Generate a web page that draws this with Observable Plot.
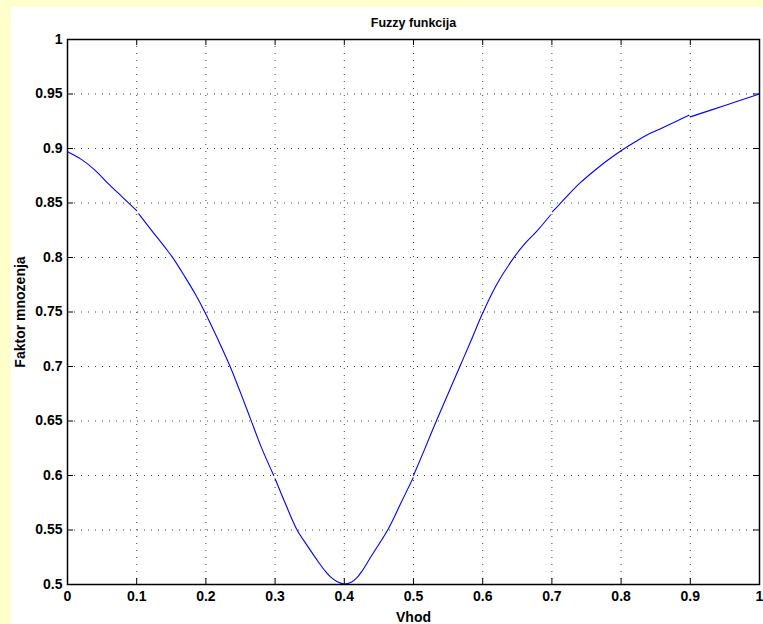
<!DOCTYPE html>
<html>
<head>
<meta charset="utf-8">
<script src="https://cdn.jsdelivr.net/npm/d3@7"></script>
<script src="https://cdn.jsdelivr.net/npm/@observablehq/plot@0.6"></script>
<style>
  html, body { margin: 0; padding: 0; background: #ffffcc; width: 763px; height: 624px; overflow: hidden; }
  #panel { position: absolute; left: 11px; top: 7px; width: 752px; height: 617px; background: #ffffff; }
</style>
</head>
<body>
<div id="panel"></div>
<script>
// Curve samples (segment id marks the small breaks)
const xs = [
  0, 0.02, 0.04, 0.06, 0.08, 0.1,
  0.103, 0.122, 0.14, 0.153, 0.17, 0.185, 0.2, 0.218, 0.235, 0.25, 0.265, 0.28, 0.298,
  0.3, 0.315, 0.331, 0.345, 0.36, 0.372, 0.38, 0.39, 0.4, 0.41, 0.418, 0.426, 0.44, 0.4635, 0.482, 0.4996,
  0.5, 0.516, 0.533, 0.55, 0.567, 0.584, 0.6, 0.62, 0.644, 0.66, 0.678, 0.698,
  0.701, 0.72, 0.74, 0.764, 0.78, 0.8, 0.82, 0.836, 0.86, 0.88, 0.898,
  0.9, 0.95, 1
];
const ys = [
  0.897, 0.890, 0.880, 0.867, 0.855, 0.843,
  0.840, 0.8245, 0.810, 0.799, 0.782, 0.766, 0.748, 0.724, 0.700, 0.676, 0.651, 0.626, 0.600,
  0.597, 0.574, 0.551, 0.537, 0.523, 0.5126, 0.507, 0.5025, 0.5005, 0.502, 0.506, 0.5126, 0.527, 0.551, 0.575, 0.598,
  0.600, 0.624, 0.650, 0.675, 0.700, 0.725, 0.749, 0.775, 0.799, 0.812, 0.824, 0.839,
  0.842, 0.855, 0.868, 0.881, 0.889, 0.898, 0.906, 0.912, 0.919, 0.925, 0.9306,
  0.929, 0.9395, 0.950
];
const seg = [
  0, 0, 0, 0, 0, 0,
  1, 1, 1, 1, 1, 1, 1, 1, 1, 1, 1, 1, 1,
  2, 2, 2, 2, 2, 2, 2, 2, 2, 2, 2, 2, 2, 2, 2, 2,
  3, 3, 3, 3, 3, 3, 3, 3, 3, 3, 3, 3,
  4, 4, 4, 4, 4, 4, 4, 4, 4, 4, 4,
  5, 5, 5
];

const xTicks = [0, 0.1, 0.2, 0.3, 0.4, 0.5, 0.6, 0.7, 0.8, 0.9, 1];
const xLabels = ["0", "0.1", "0.2", "0.3", "0.4", "0.5", "0.6", "0.7", "0.8", "0.9", "1"];
const yTicks = [0.5, 0.55, 0.6, 0.65, 0.7, 0.75, 0.8, 0.85, 0.9, 0.95, 1];
const yLabels = ["0.5", "0.55", "0.6", "0.65", "0.7", "0.75", "0.8", "0.85", "0.9", "0.95", "1"];

const titleText = "Fuzzy funkcija";
const xLabelText = "Vhod";
const yLabelText = "Faktor mnozenja";

const data = xs.map((x, i) => ({x, y: ys[i], s: seg[i]}));

const W = 752, H = 617;
const mL = 56, mR = 4, mT = 32, mB = 40;
const innerW = W - mL - mR, innerH = H - mT - mB;
const tickLen = 6;
const font = "'Liberation Sans', Arial, Helvetica, sans-serif";

const chart = Plot.plot({
  width: W,
  height: H,
  marginLeft: mL,
  marginRight: mR,
  marginTop: mT,
  marginBottom: mB,
  style: {fontFamily: font, fontSize: "14px", fontWeight: "bold", background: "white", color: "black", overflow: "visible"},
  x: {domain: [0, 1]},
  y: {domain: [0.5, 1]},
  marks: [
    Plot.gridX(xTicks, {stroke: "#000", strokeOpacity: 0.75, strokeDasharray: "1,6", strokeWidth: 1}),
    Plot.gridY(yTicks, {stroke: "#000", strokeOpacity: 0.75, strokeDasharray: "1,6", strokeWidth: 1}),
    // inside tick marks (MATLAB style) on all four sides
    Plot.tickX(xTicks, {x: d => d, stroke: "#000", strokeWidth: 1, insetTop: innerH - tickLen}),
    Plot.tickX(xTicks, {x: d => d, stroke: "#000", strokeWidth: 1, insetBottom: innerH - tickLen}),
    Plot.tickY(yTicks, {y: d => d, stroke: "#000", strokeWidth: 1, insetRight: innerW - tickLen}),
    Plot.tickY(yTicks, {y: d => d, stroke: "#000", strokeWidth: 1, insetLeft: innerW - tickLen}),
    Plot.line(data, {x: "x", y: "y", z: "s", stroke: "#0000ff", strokeWidth: 1.1, curve: "catmull-rom"}),
    Plot.frame({stroke: "#000", strokeWidth: 1.5}),
    Plot.axisX(xTicks, {
      anchor: "bottom", tickSize: 0, tickPadding: 7,
      tickFormat: d => xLabels[xTicks.indexOf(d)],
      fontSize: 14, fontWeight: "bold",
      label: xLabelText, labelAnchor: "center", labelOffset: 37, labelArrow: "none"
    }),
    Plot.axisY(yTicks, {
      anchor: "left", tickSize: 0, tickPadding: 5,
      tickFormat: d => yLabels[yTicks.indexOf(d)],
      fontSize: 14, fontWeight: "bold",
      label: yLabelText, labelAnchor: "center", labelOffset: 52, labelArrow: "none"
    }),
    Plot.text([titleText], {frameAnchor: "top", dy: -13, lineAnchor: "bottom", fontSize: 12.5, fontWeight: "bold", fill: "#000"})
  ]
});

document.getElementById("panel").appendChild(chart);
</script>
</body>
</html>
